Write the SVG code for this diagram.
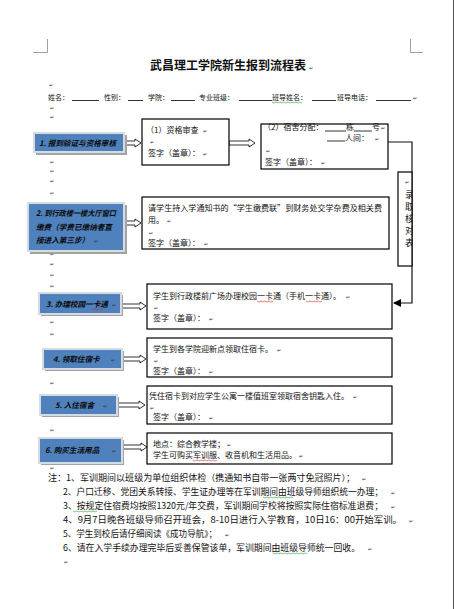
<svg xmlns="http://www.w3.org/2000/svg" width="455" height="609" viewBox="0 0 455 609">
<style>
.t{font-family:"Noto Sans CJK SC","Liberation Sans",sans-serif;fill:#111}
.h{font-size:7px}
.b{font-size:8px}
.lb{font-size:7.6px;font-weight:bold;font-style:italic;fill:#0a0a0a}
.n{font-size:9px}
.box{fill:#fff;stroke:#000;stroke-width:1.2}
.blue{fill:#4f81bd;stroke:#d5dbe3;stroke-width:2}
.sh{fill:#a3a3a3}
.arr{fill:#fff;stroke:#000;stroke-width:0.8}
.pm{font-family:"DejaVu Sans",sans-serif;font-size:5px;fill:#333}
.ul{stroke:#000;stroke-width:0.8}
.wr{fill:none;stroke:#e02020;stroke-width:0.6}
.wg{fill:none;stroke:#2a9a2a;stroke-width:0.6}
.crop{stroke:#a0a0a0;stroke-width:1;fill:none}
</style>
<defs>
<marker id="ah" markerWidth="8" markerHeight="8" refX="7" refY="4" orient="auto" markerUnits="userSpaceOnUse">
<path d="M0,0 L8,4 L0,8 Z" fill="#000"/>
</marker>
<clipPath id="vclip"><rect x="398" y="172" width="14" height="94"/></clipPath>
</defs>
<rect width="455" height="609" fill="#fff"/>
<line x1="453.5" y1="0" x2="453.5" y2="609" stroke="#555" stroke-width="1"/>
<path class="crop" d="M33,52.5 H47.5 V39"/>
<path class="crop" d="M423,52.5 H410.5 V39"/>

<g id="title">
<text class="t" x="228" y="70" font-size="12" font-weight="bold" text-anchor="middle">武昌理工学院新生报到流程表</text>
<text class="pm" x="309" y="70">↵</text>
</g>

<g id="header">
<text class="pm" x="49" y="87">↵</text>
<text class="t h" x="48" y="100">姓名：</text>
<line class="ul" x1="72" y1="100.5" x2="99" y2="100.5"/>
<text class="t h" x="104" y="100">性别：</text>
<line class="ul" x1="128" y1="100.5" x2="143" y2="100.5"/>
<text class="t h" x="148" y="100">学院：</text>
<line class="ul" x1="171" y1="100.5" x2="195" y2="100.5"/>
<text class="t h" x="199" y="100">专业班级：</text>
<line class="ul" x1="239" y1="100.5" x2="272" y2="100.5"/>
<text class="t h" x="272" y="100">班导姓名：</text>
<path class="wg" d="M272,102 l2,1 l2,-1 l2,1 l2,-1 l2,1 l2,-1 l2,1 l2,-1 l2,1 l2,-1 l2,1 l2,-1 l2,1 l2,-1 l2,1"/>
<line class="ul" x1="312" y1="100.5" x2="336" y2="100.5"/>
<text class="t h" x="337" y="100">班导电话：</text>
<line class="ul" x1="376" y1="100.5" x2="411" y2="100.5"/>
<text class="pm" x="413" y="100">↵</text>
</g>

<g id="marks" class="pm">
<text x="50" y="110">↵</text>
<text x="50" y="119">↵</text>
<text x="50" y="164">↵</text>
<text x="50" y="173">↵</text>
<text x="50" y="183">↵</text>
<text x="50" y="195">↵</text>
<text x="50" y="256">↵</text>
<text x="50" y="266">↵</text>
<text x="50" y="277">↵</text>
<text x="50" y="288">↵</text>
<text x="50" y="324">↵</text>
<text x="50" y="336">↵</text>
<text x="50" y="385">↵</text>
<text x="50" y="432">↵</text>
<text x="50" y="470">↵</text>
<text x="64" y="564">↵</text>
</g>

<g id="connectors">
<path class="arr" d="M124,141 H135 V139 L141,143 L135,147 V145 H124 Z"/>
<path class="arr" d="M229,141 H249 V139 L255,143 L249,147 V145 H229 Z"/>
<path class="arr" d="M125,221 H135 V219 L141,223 L135,227 V225 H125 Z"/>
<path class="arr" d="M121,304 H140 V302 L146,306 L140,310 V308 H121 Z"/>
<path class="arr" d="M122,357 H140 V355 L146,359 L140,363 V361 H122 Z"/>
<path class="arr" d="M118,403 H139 V401 L145,405 L139,409 V407 H118 Z"/>
<path class="arr" d="M122,445 H141 V443 L147,447 L141,451 V449 H122 Z"/>
<path d="M388,142 H412 V303 H394" fill="none" stroke="#111" stroke-width="1.2" marker-end="url(#ah)"/>
</g>

<g id="n1">
<rect class="sh" x="36" y="135" width="91" height="20"/>
<rect class="blue" x="34" y="133" width="90" height="19"/>
<text class="t lb" x="39" y="146">1. 报到验证与资格审核</text>
</g>

<g id="n1a">
<rect class="box" x="142" y="119" width="87" height="46"/>
<text class="t b" x="146" y="133">（1）资格审查</text>
<text class="pm" x="203" y="133">↵</text>
<text class="pm" x="150" y="144">↵</text>
<text class="t b" x="148" y="156">签字（盖章）：</text>
<text class="pm" x="203" y="156">↵</text>
</g>

<g id="n1b">
<rect class="box" x="261" y="124" width="127" height="45"/>
<text class="t b" x="263" y="130">（2）宿舍分配：</text>
<line class="ul" x1="325" y1="131" x2="346" y2="131"/>
<text class="t b" x="346" y="130">栋</text>
<line class="ul" x1="354" y1="131" x2="372" y2="131"/>
<text class="t b" x="372" y="130">号</text>
<text class="pm" x="381" y="130">↵</text>
<line class="ul" x1="327" y1="141" x2="345" y2="141"/>
<text class="t b" x="345" y="141">人间：</text>
<text class="pm" x="375" y="141">↵</text>
<text class="pm" x="266" y="153">↵</text>
<text class="t b" x="265" y="165">签字（盖章）：</text>
<text class="pm" x="321" y="165">↵</text>
</g>

<g id="nv">
<rect class="box" x="398" y="172" width="14" height="94"/>
<text class="pm" x="405" y="184">↵</text>
<g clip-path="url(#vclip)">
<text class="t" x="405" y="198" font-size="9">录</text>
<text class="t" x="405" y="210" font-size="9">取</text>
<text class="t" x="405" y="222" font-size="9">核</text>
<text class="t" x="405" y="234" font-size="9">对</text>
<text class="t" x="405" y="246" font-size="9">表</text>
</g>
</g>

<g id="n2">
<rect class="sh" x="30" y="205" width="97" height="49"/>
<rect class="blue" x="28" y="203" width="96" height="48"/>
<text class="t lb" x="36" y="216" textLength="80" lengthAdjust="spacingAndGlyphs">2. 到行政楼一楼大厅窗口</text>
<text class="t lb" x="36" y="230">缴费（学费已缴纳者直</text>
<text class="t lb" x="36" y="243">接进入第三步）</text>
<text class="pm" x="94" y="243">↵</text>
</g>

<g id="n2a">
<rect class="box" x="142" y="197" width="247" height="52"/>
<text class="t b" x="148" y="211" textLength="234" lengthAdjust="spacingAndGlyphs">请学生持入学通知书的“学生缴费联”到财务处交学杂费及相关费</text>
<text class="t b" x="148" y="223">用。</text>
<text class="pm" x="167" y="223">↵</text>
<text class="pm" x="149" y="235">↵</text>
<text class="t b" x="148" y="246">签字（盖章）：</text>
<text class="pm" x="204" y="246">↵</text>
</g>

<g id="n3">
<rect class="sh" x="41" y="295" width="82" height="21"/>
<rect class="blue" x="39" y="293" width="82" height="21"/>
<text class="t lb" x="46" y="307">3. 办理校园一卡通</text>
<path class="wr" d="M92,309 l1.5,1 l1.5,-1 l1.5,1 l1.5,-1 l1.5,1 l1.5,-1 l1.5,1"/>
<text class="pm" x="112" y="307">↵</text>
</g>

<g id="n3a">
<rect class="box" x="147" y="284" width="245" height="45"/>
<text class="t b" x="153" y="299">学生到行政楼前广场办理校园一卡通（手机一卡通）。</text>
<path class="wr" d="M257,301 l2,1 l2,-1 l2,1 l2,-1 l2,1 l2,-1 l2,1 l2,-1"/>
<path class="wr" d="M306,301 l2,1 l2,-1 l2,1 l2,-1 l2,1 l2,-1 l2,1 l2,-1"/>
<text class="pm" x="346" y="299">↵</text>
<text class="pm" x="154" y="310">↵</text>
<text class="t b" x="153" y="321">签字（盖章）：</text>
<text class="pm" x="209" y="321">↵</text>
</g>

<g id="n4">
<rect class="sh" x="45" y="351" width="79" height="20"/>
<rect class="blue" x="43" y="349" width="79" height="20"/>
<text class="t lb" x="53" y="362">4. 领取住宿卡</text>
<text class="pm" x="111" y="362">↵</text>
</g>

<g id="n4a">
<rect class="box" x="147" y="338" width="245" height="39"/>
<text class="t b" x="153" y="352">学生到各学院迎新点领取住宿卡。</text>
<text class="pm" x="277" y="352">↵</text>
<text class="pm" x="154" y="363">↵</text>
<text class="t b" x="153" y="374">签字（盖章）：</text>
<text class="pm" x="209" y="374">↵</text>
</g>

<g id="n5">
<rect class="sh" x="42" y="397" width="77" height="20"/>
<rect class="blue" x="40" y="395" width="77" height="20"/>
<text class="t lb" x="55" y="408">5. 入住宿舍</text>
<text class="pm" x="103" y="408">↵</text>
</g>

<g id="n5a">
<rect class="box" x="147" y="386" width="245" height="38"/>
<text class="t b" x="149" y="399">凭住宿卡到对应学生公寓一楼值班室领取宿舍钥匙入住。</text>
<text class="pm" x="353" y="399">↵</text>
<text class="pm" x="150" y="410">↵</text>
<text class="t b" x="153" y="420">签字（盖章）：</text>
<text class="pm" x="209" y="420">↵</text>
</g>

<g id="n6">
<rect class="sh" x="41" y="440" width="83" height="25"/>
<rect class="blue" x="39" y="438" width="83" height="25"/>
<text class="t lb" x="45" y="453">6. 购买生活用品</text>
<text class="pm" x="112" y="453">↵</text>
</g>

<g id="n6a">
<rect class="box" x="147" y="433" width="245" height="31"/>
<text class="t b" x="153" y="447">地点：综合教学楼；</text>
<text class="pm" x="227" y="447">↵</text>
<text class="t b" x="153" y="458">学生可购买军训服、收音机和生活用品。</text>
<path class="wr" d="M193,460 l2,1 l2,-1 l2,1 l2,-1 l2,1 l2,-1 l2,1 l2,-1 l2,1 l2,-1 l2,1 l2,-1"/>
<text class="pm" x="299" y="458">↵</text>
</g>

<g id="notes">
<text class="t n" x="48" y="481" textLength="307" lengthAdjust="spacingAndGlyphs">注：1、军训期间以班级为单位组织体检（携通知书自带一张两寸免冠照片）；</text>
<text class="pm" x="362" y="481">↵</text>
<text class="t n" x="63" y="495" textLength="320" lengthAdjust="spacingAndGlyphs">2、户口迁移、党团关系转接、学生证办理等在军训期间由班级导师组织统一办理；</text>
<path class="wg" d="M263,497 l2,1 l2,-1 l2,1 l2,-1 l2,1 l2,-1 l2,1 l2,-1 l2,1 l2,-1 l2,1 l2,-1 l2,1 l2,-1 l2,1"/>
<text class="pm" x="391" y="495">↵</text>
<text class="t n" x="63" y="509" textLength="320" lengthAdjust="spacingAndGlyphs">3、按规定住宿费均按照1320元/年交费，军训期间学校将按照实际住宿标准退费；</text>
<path class="wg" d="M73,511 l2,1 l2,-1 l2,1 l2,-1 l2,1 l2,-1 l2,1 l2,-1 l2,1 l2,-1 l2,1 l2,-1"/>
<text class="pm" x="391" y="509">↵</text>
<text class="t n" x="63" y="523" textLength="339" lengthAdjust="spacingAndGlyphs">4、9月7日晚各班级导师召开班会，8-10日进行入学教育，10日16：00开始军训。</text>
<text class="pm" x="409" y="523">↵</text>
<text class="t n" x="63" y="537" textLength="154" lengthAdjust="spacingAndGlyphs">5、学生到校后请仔细阅读《成功导航》；</text>
<text class="pm" x="225" y="537">↵</text>
<text class="t n" x="63" y="551" textLength="297" lengthAdjust="spacingAndGlyphs">6、请在入学手续办理完毕后妥善保管该单，军训期间由班级导师统一回收。</text>
<path class="wg" d="M273,553 l2,1 l2,-1 l2,1 l2,-1 l2,1 l2,-1 l2,1 l2,-1 l2,1 l2,-1 l2,1 l2,-1 l2,1 l2,-1 l2,1 l2,-1 l2,1"/>
<text class="pm" x="368" y="551">↵</text>
</g>
</svg>
